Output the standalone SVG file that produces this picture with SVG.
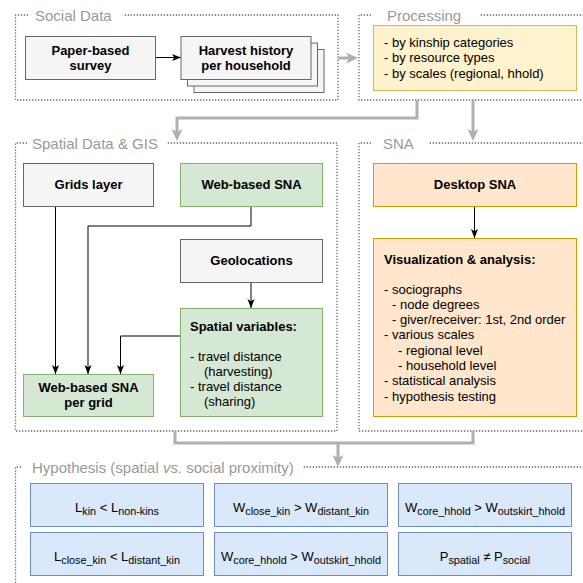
<svg xmlns="http://www.w3.org/2000/svg" width="583" height="583" viewBox="0 0 583 583">
<defs>
<style>
.grp{fill:none;stroke:#666;stroke-width:1.3;stroke-dasharray:1.3 1.7}
.ttl{font-family:"Liberation Sans",Arial,sans-serif;font-size:15px;fill:#999}
.t{font-family:"Liberation Sans",Arial,sans-serif;font-size:13px;fill:#000}
.b{font-weight:bold}
.c{text-anchor:middle}
.grey{fill:#f5f5f5;stroke:#666}
.green{fill:#d5e8d4;stroke:#82b366}
.yellow{fill:#fff2cc;stroke:#d6b656}
.orange{fill:#ffe6cc;stroke:#d79b00}
.blue{fill:#dae8fc;stroke:#6c8ebf}
.ln{fill:none;stroke:#000;stroke-width:1}
.gl{fill:none;stroke:#b0b0b0;stroke-width:3}
.sub{font-size:10.8px}
</style>
<marker id="ab" markerUnits="userSpaceOnUse" viewBox="0 0 10 10" markerWidth="9" markerHeight="9" refX="10" refY="5" orient="auto">
<path d="M0,1 L10,5 L0,9 L2.5,5 z" fill="#000"/>
</marker>
<marker id="ag" markerUnits="userSpaceOnUse" viewBox="0 0 12 12" markerWidth="12" markerHeight="12" refX="3" refY="6" orient="auto">
<path d="M0,0.5 L12,6 L0,11.5 L3,6 z" fill="#b0b0b0"/>
</marker>
</defs>
<rect width="583" height="583" fill="#fff"/>

<!-- groups -->
<g id="group-social">
<path class="grp" d="M28,15 H15.5 V100 H338 V15 H123"/>
<text class="ttl" x="35" y="20.5">Social Data</text>
</g>
<g id="group-processing">
<path class="grp" d="M371,15 H359 V100 H590 M590,15 H480"/>
<text class="ttl" x="387" y="20.5">Processing</text>
</g>
<g id="group-spatial">
<path class="grp" d="M27,143 H15.5 V431 H337 V143 H167"/>
<text class="ttl" x="32" y="148.5">Spatial Data &amp; GIS</text>
</g>
<g id="group-sna">
<path class="grp" d="M371,143 H359 V431 H590 M590,143 H428"/>
<text class="ttl" x="383" y="148.5">SNA</text>
</g>
<g id="group-hypothesis">
<path class="grp" d="M21,467 H15.5 V590 M590,467 H303"/>
<text class="ttl" x="32" y="472.5">Hypothesis (spatial <tspan font-style="italic">vs.</tspan> social proximity)</text>
</g>

<!-- connectors -->
<g id="connectors">
<path class="gl" d="M338,58 H349" marker-end="url(#ag)"/>
<path class="gl" d="M417,100 V118 H177 V132" marker-end="url(#ag)"/>
<path class="gl" d="M473,100 V132" marker-end="url(#ag)"/>
<path class="gl" d="M175,431 V443 H473 V431"/>
<path class="gl" d="M338,443 V458" marker-end="url(#ag)"/>
<path class="ln" d="M155,57.5 H181" marker-end="url(#ab)"/>
<path class="ln" d="M55.5,207 V374" marker-end="url(#ab)"/>
<path class="ln" d="M251,207 V226 H88 V374" marker-end="url(#ab)"/>
<path class="ln" d="M180,336 H120.5 V374" marker-end="url(#ab)"/>
<path class="ln" d="M251,283 V308" marker-end="url(#ab)"/>
<path class="ln" d="M474.5,207 V238" marker-end="url(#ab)"/>
</g>

<!-- nodes -->
<g id="paper-survey">
<rect class="grey" x="25.5" y="36.5" width="130" height="43"/>
<text class="t b c" x="90.5" y="54.5">Paper-based</text>
<text class="t b c" x="90.5" y="69.5">survey</text>
</g>
<g id="harvest-history">
<rect class="grey" x="194" y="49.5" width="130" height="43"/>
<rect class="grey" x="187.5" y="43" width="130" height="43"/>
<rect class="grey" x="181" y="36.5" width="130" height="43"/>
<text class="t b c" x="246" y="54.5">Harvest history</text>
<text class="t b c" x="246" y="69.5">per household</text>
</g>
<g id="processing">
<rect class="yellow" x="373.5" y="25.5" width="203" height="65"/>
<text class="t" x="384" y="47">- by kinship categories</text>
<text class="t" x="384" y="62">- by resource types</text>
<text class="t" x="384" y="77.5">- by scales (regional, hhold)</text>
</g>
<g id="grids-layer">
<rect class="grey" x="23.5" y="163.5" width="130" height="43"/>
<text class="t b c" x="88.5" y="189">Grids layer</text>
</g>
<g id="web-sna">
<rect class="green" x="180.5" y="163.5" width="142" height="43"/>
<text class="t b c" x="251.5" y="189">Web-based SNA</text>
</g>
<g id="geolocations">
<rect class="grey" x="180.5" y="239.5" width="142" height="43"/>
<text class="t b c" x="251.5" y="265">Geolocations</text>
</g>
<g id="spatial-variables">
<rect class="green" x="180.5" y="308.5" width="142" height="108"/>
<text class="t b" x="190" y="331">Spatial variables:</text>
<text class="t" x="190" y="361">- travel distance</text>
<text class="t" x="204" y="376">(harvesting)</text>
<text class="t" x="190" y="391">- travel distance</text>
<text class="t" x="204" y="406">(sharing)</text>
</g>
<g id="web-sna-grid">
<rect class="green" x="23.5" y="374.5" width="130" height="42"/>
<text class="t b c" x="88.5" y="392">Web-based SNA</text>
<text class="t b c" x="88.5" y="407">per grid</text>
</g>
<g id="desktop-sna">
<rect class="orange" x="373.5" y="163.5" width="203" height="43"/>
<text class="t b c" x="475" y="189">Desktop SNA</text>
</g>
<g id="visualization">
<rect class="orange" x="373.5" y="238.5" width="203" height="178"/>
<text class="t b" x="384" y="264">Visualization &amp; analysis:</text>
<text class="t" x="384" y="293.5">- sociographs</text>
<text class="t" x="392" y="308.8">- node degrees</text>
<text class="t" x="392" y="324">- giver/receiver: 1st, 2nd order</text>
<text class="t" x="384" y="339.4">- various scales</text>
<text class="t" x="398" y="354.7">- regional level</text>
<text class="t" x="398" y="370">- household level</text>
<text class="t" x="384" y="385.2">- statistical analysis</text>
<text class="t" x="384" y="400.5">- hypothesis testing</text>
</g>
<g id="hyp-1">
<rect class="blue" x="30.5" y="483.5" width="173" height="43"/>
<text class="t c" x="117" y="511.5">L<tspan class="sub" dy="3">kin</tspan><tspan dy="-3"> &lt; L</tspan><tspan class="sub" dy="3">non-kins</tspan></text>
</g>
<g id="hyp-2">
<rect class="blue" x="214.5" y="483.5" width="173" height="43"/>
<text class="t c" x="301" y="511.5">W<tspan class="sub" dy="3">close_kin</tspan><tspan dy="-3"> &gt; W</tspan><tspan class="sub" dy="3">distant_kin</tspan></text>
</g>
<g id="hyp-3">
<rect class="blue" x="398.5" y="483.5" width="173" height="43"/>
<text class="t c" x="485" y="511.5">W<tspan class="sub" dy="3">core_hhold</tspan><tspan dy="-3"> &gt; W</tspan><tspan class="sub" dy="3">outskirt_hhold</tspan></text>
</g>
<g id="hyp-4">
<rect class="blue" x="30.5" y="532.5" width="173" height="43"/>
<text class="t c" x="117" y="560.5">L<tspan class="sub" dy="3">close_kin</tspan><tspan dy="-3"> &lt; L</tspan><tspan class="sub" dy="3">distant_kin</tspan></text>
</g>
<g id="hyp-5">
<rect class="blue" x="214.5" y="532.5" width="173" height="43"/>
<text class="t c" x="301" y="560.5">W<tspan class="sub" dy="3">core_hhold</tspan><tspan dy="-3"> &gt; W</tspan><tspan class="sub" dy="3">outskirt_hhold</tspan></text>
</g>
<g id="hyp-6">
<rect class="blue" x="398.5" y="532.5" width="173" height="43"/>
<text class="t c" x="485" y="560.5">P<tspan class="sub" dy="3">spatial</tspan><tspan dy="-3"> ≠ P</tspan><tspan class="sub" dy="3">social</tspan></text>
</g>
</svg>
